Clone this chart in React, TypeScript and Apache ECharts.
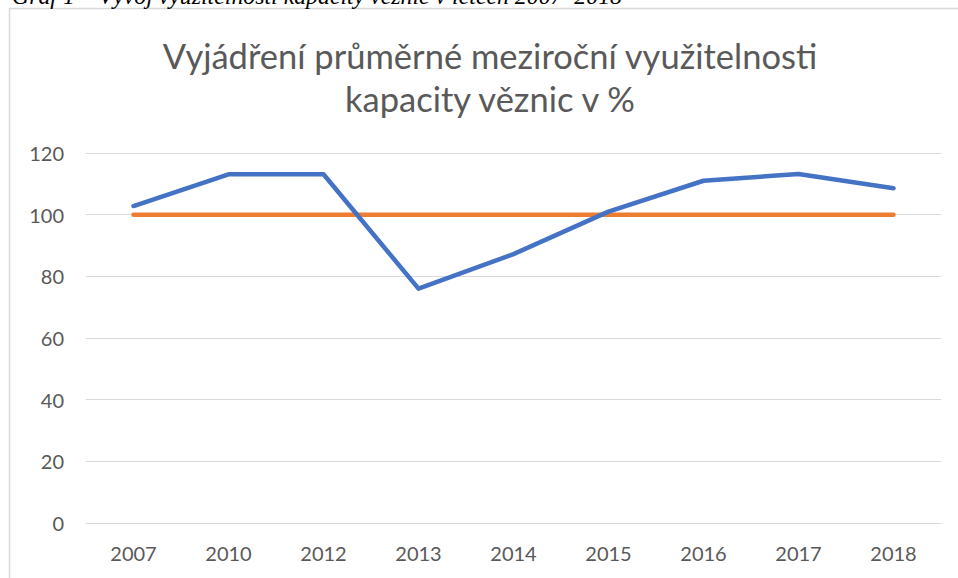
import React, { useEffect, useRef } from "react";
import * as echarts from "echarts";

const categories = ["2007", "2010", "2012", "2013", "2014", "2015", "2016", "2017", "2018"];
const utilization = [102.8, 113.1, 113.1, 76, 87.2, 101, 111, 113.2, 108.6];
const baseline = [100, 100, 100, 100, 100, 100, 100, 100, 100];
const yTicks = { min: 0, max: 120, interval: 20 };

const titleText = "Vyjádření průměrné meziroční využitelnosti\nkapacity věznic v %";
const captionText = "Graf 1 – Vývoj využitelnosti kapacity věznic v letech 2007–2018";

export default function App() {
  const ref = useRef<HTMLDivElement>(null);
  useEffect(() => {
    if (!ref.current) return;
    const chart = echarts.init(ref.current, undefined, { renderer: "svg" });
    const font = "Lato, 'Open Sans', sans-serif";
    chart.setOption({
      animation: false,
      backgroundColor: "#ffffff",
      graphic: [
        {
          type: "rect",
          shape: { x: 9.5, y: 8.5, width: 1000, height: 600 },
          style: { fill: "none", stroke: "#d9d9d9", lineWidth: 1.5 },
          silent: true,
        },
        {
          type: "text",
          x: 12,
          y: 8,
          style: {
            text: captionText,
            fontFamily: "'Liberation Serif', 'Times New Roman', serif",
            fontStyle: "italic",
            fontSize: 23.8,
            fill: "#000000",
            textVerticalAlign: "bottom",
          },
        },
        {
          type: "text",
          x: 490,
          y: 77,
          style: {
            text: titleText,
            fontFamily: font,
            fontSize: 34.5,
            lineHeight: 43,
            fill: "#595959",
            textAlign: "center",
            textVerticalAlign: "middle",
          },
        },
      ],
      grid: { left: 86, right: 17, top: 153, bottom: 55, containLabel: false },
      xAxis: {
        type: "category",
        data: categories,
        boundaryGap: true,
        axisLine: { show: true, lineStyle: { color: "#d9d9d9", width: 1 } },
        axisTick: { show: false },
        axisLabel: { color: "#595959", fontSize: 20, fontFamily: font, margin: 20 },
      },
      yAxis: {
        type: "value",
        min: yTicks.min,
        max: yTicks.max,
        interval: yTicks.interval,
        axisLine: { show: false },
        axisTick: { show: false },
        axisLabel: { color: "#595959", fontSize: 20, fontFamily: font, margin: 22 },
        splitLine: { lineStyle: { color: "#d9d9d9", width: 1 } },
      },
      series: [
        {
          type: "line",
          data: utilization,
          symbol: "none",
          lineStyle: { color: "#4472c4", width: 4.5, cap: "round", join: "round" },
          z: 3,
        },
        {
          type: "line",
          data: baseline,
          symbol: "none",
          lineStyle: { color: "#ed7d31", width: 4.5, cap: "round", join: "round" },
          z: 2,
        },
      ],
    });
    return () => chart.dispose();
  }, []);
  return (
    <div
      ref={ref}
      style={{ position: "absolute", left: 0, top: 0, width: 958, height: 578 }}
    />
  );
}
